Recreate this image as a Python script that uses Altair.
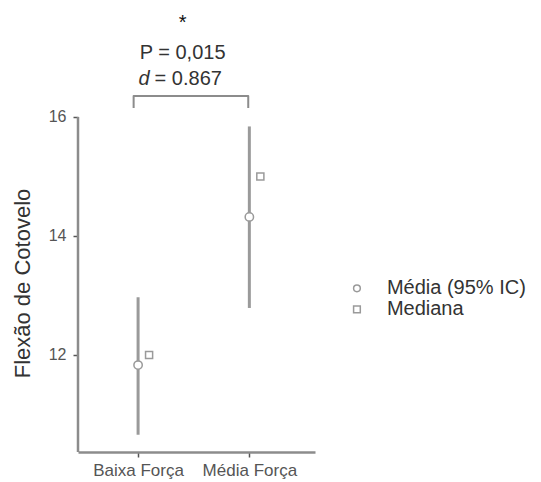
import altair as alt
import pandas as pd

# ---- data ----
groups = ["Baixa Força", "Média Força"]
group_pos = [1, 2]
means = [11.83, 14.32]
ci_low = [10.66, 12.79]
ci_high = [12.97, 15.84]
medians = [12.0, 15.0]
legend_labels = ["Média (95% IC)", "Mediana"]
legend_shapes = ["circle", "square"]

y_ticks = [12, 14, 16]
y_min, y_max = 10.37, 17.83
y_axis_top = 16
x_min, x_max = 0.46, 2.59

bracket_x = [0.96, 0.96, 1.99, 1.99]
bracket_y = [16.15, 16.35, 16.35, 16.15]
annot_x = 1.40
star_text = "*"
star_y = 17.57
p_text = "P = 0,015"
p_y = 17.08
d_sym = "d"
d_rest = "= 0.867"
d_y = 16.64

# legend layout (data units, outside the plotted domain)
legend_sym_x = 2.967
legend_txt_x = 3.236
legend_y = [13.12, 12.765]

GRAY = "#9a9a9a"
AXIS_GRAY = "#8c8c8c"
TEXT = "#333333"
LABEL = "#555555"
FONT = "Liberation Sans"

df = pd.DataFrame({
    "grupo": groups, "pos": group_pos, "media": means,
    "lo": ci_low, "hi": ci_high, "mediana": medians,
})

label_expr = " : ".join(
    [f"datum.value == {p} ? '{g}'" for p, g in zip(group_pos[:-1], groups[:-1])]
    + [f"'{groups[-1]}'"]
)

xscale = alt.Scale(domain=[x_min, x_max], nice=False, zero=False)
yscale = alt.Scale(domain=[y_min, y_max], nice=False, zero=False)

x_enc = alt.X("pos:Q", scale=xscale, axis=alt.Axis(
    values=group_pos, labelExpr=label_expr, title=None, grid=False,
    domainColor=AXIS_GRAY, domainWidth=2.5, tickColor=LABEL, tickSize=5,
    tickWidth=1.5, labelFont=FONT, labelFontSize=17, labelColor=LABEL,
    labelPadding=5))

base = alt.Chart(df)

errs = base.mark_rule(color=GRAY, strokeWidth=3).encode(
    x=x_enc,
    y=alt.Y("lo:Q", scale=yscale, axis=alt.Axis(
        values=y_ticks, format="d", domain=False, grid=False,
        title="Flexão de Cotovelo", titleY=275,
        titleFont=FONT, titleFontSize=22, titleFontWeight="normal",
        titleColor=TEXT, titlePadding=14, labelFont=FONT, labelFontSize=16,
        labelColor=LABEL, tickColor=LABEL, tickSize=5, tickWidth=1.5,
        labelPadding=7)),
    y2="hi:Q")

mean_pts = base.mark_point(filled=False, fill="white", color=GRAY, shape="circle",
                           strokeWidth=1.5, size=70, opacity=1).encode(
    x="pos:Q", y="media:Q")

med_pts = base.mark_point(filled=False, fill="white", color=GRAY, shape="square",
                          strokeWidth=1.5, size=50, opacity=1, xOffset=11).encode(
    x="pos:Q", y="mediana:Q")

yaxis_df = pd.DataFrame({"x": [x_min], "y": [y_min], "y2": [y_axis_top]})
yaxis_line = alt.Chart(yaxis_df).mark_rule(color=AXIS_GRAY, strokeWidth=2.5).encode(
    x="x:Q", y="y:Q", y2="y2:Q")

br_df = pd.DataFrame({"x": bracket_x, "y": bracket_y, "o": list(range(len(bracket_x)))})
bracket = alt.Chart(br_df).mark_line(color=AXIS_GRAY, strokeWidth=2,
                                     strokeJoin="round").encode(
    x="x:Q", y="y:Q", order="o:Q")

txt_df = pd.DataFrame({"x": [annot_x], "star": [star_text], "sy": [star_y],
                       "p": [p_text], "py": [p_y], "d": [d_sym], "dr": [d_rest],
                       "dy": [d_y]})
tbase = alt.Chart(txt_df)
star = tbase.mark_text(font=FONT, fontSize=20, color="#111").encode(
    x="x:Q", y="sy:Q", text="star:N")
ptxt = tbase.mark_text(font=FONT, fontSize=20, color=TEXT).encode(
    x="x:Q", y="py:Q", text="p:N")
dtxt = tbase.mark_text(font=FONT, fontSize=20, color=TEXT, fontStyle="italic",
                       align="right", dx=-33).encode(x="x:Q", y="dy:Q", text="d:N")
drtxt = tbase.mark_text(font=FONT, fontSize=20, color=TEXT, align="left",
                        dx=-28).encode(x="x:Q", y="dy:Q", text="dr:N")

leg_df = pd.DataFrame({"label": legend_labels, "shape": legend_shapes,
                       "y": legend_y, "sx": legend_sym_x, "tx": legend_txt_x})
lbase = alt.Chart(leg_df)
leg_sym = lbase.mark_point(filled=False, fill="white", color=GRAY, strokeWidth=1.5,
                           size=45, opacity=1).encode(
    x="sx:Q", y="y:Q",
    shape=alt.Shape("shape:N", scale=None, legend=None))
leg_txt = lbase.mark_text(font=FONT, fontSize=20, color=TEXT, align="left").encode(
    x="tx:Q", y="y:Q", text="label:N")

chart = alt.layer(errs, yaxis_line, bracket, mean_pts, med_pts,
                  star, ptxt, dtxt, drtxt, leg_sym, leg_txt).properties(
    width=237, height=444,
    autosize=alt.AutoSizeParams(type="none"),
    padding={"left": 70, "top": 0, "right": 218, "bottom": 28},
).configure(background="white").configure_view(stroke=None, strokeWidth=0)

chart.save("out.html", embed_options={"renderer": "svg", "actions": False})
